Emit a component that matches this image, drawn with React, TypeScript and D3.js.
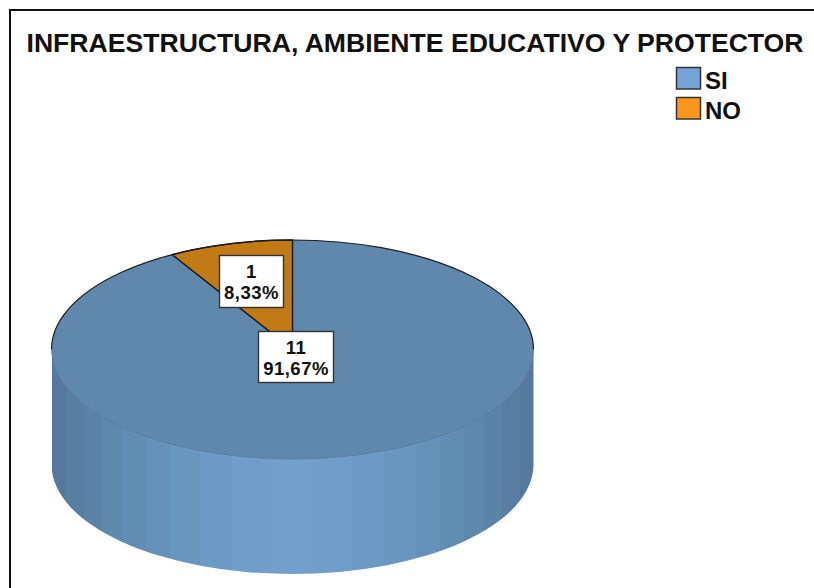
import React from "react";
import * as d3 from "d3";

const categories = ["SI", "NO"];
const counts = [11, 1];
const percentLabels = ["91,67%", "8,33%"];
const titleText = "INFRAESTRUCTURA, AMBIENTE EDUCATIVO Y PROTECTOR";
const topColors = ["#6088ad", "#c27a16"];
const legendColors = ["#74a5d6", "#f8971c"];
const sideColorScale = d3
  .scaleLinear<string>()
  .domain([0, 0.25, 0.5, 0.75, 1])
  .range(["#54779a", "#5f88ad", "#6895be", "#6f9cc7", "#729fcc"]);

const W = 814, H = 588;
const cx = 292.5, cy = 349.5, rx = 241, ry = 109.5, depth = 115;
const ratio = ry / rx;
const labelBoxes = [
  { x: 258, y: 331, w: 75, h: 51, first: 23, second: 44 },
  { x: 219, y: 255, w: 64, h: 52, first: 23, second: 44 },
];
const font = "'Liberation Sans', Arial, sans-serif";
const bandEdges = [52, 66, 84, 102, 122, 146, 170, 200, 232, 272, 312, 352, 384, 416, 440, 464, 484, 502, 520, 534];

export default function App() {
  // SI is drawn clockwise from 12 o'clock, NO closes the circle.
  const pie = d3.pie<number>().sort(null)(counts);
  const arc = d3.arc<d3.PieArcDatum<number>>().innerRadius(0).outerRadius(rx);
  const sidePath = `M${cx - rx} ${cy}V${cy + depth}A${rx} ${ry} 0 0 0 ${cx + rx} ${cy + depth}V${cy}Z`;

  return (
    <svg width={W} height={H} style={{ position: "absolute", left: 0, top: 0, display: "block", background: "#fff" }}>
      <defs>
        <clipPath id="side"><path d={sidePath} /></clipPath>
      </defs>
      <path d={`M10 ${H}V10H${W}`} fill="none" stroke="#111" strokeWidth={2} />
      <text x={26.5} y={52} fontFamily={font} fontWeight="bold" fontSize={25} textLength={777} lengthAdjust="spacingAndGlyphs" fill="#111">
        {titleText}
      </text>

      {categories.map((c, i) => (
        <g key={c}>
          <rect x={676.5} y={67.5 + i * 30} width={24} height={21.5} fill={legendColors[i]} stroke="#333" strokeWidth={1.5} />
          <text x={705} y={89 + i * 29.5} fontFamily={font} fontWeight="bold" fontSize={24} fill="#111">{c}</text>
        </g>
      ))}

      <g clipPath="url(#side)">
        {bandEdges.slice(0, -1).map((x, i) => {
          const next = bandEdges[i + 1];
          const t = 1 - Math.abs((x + next) / 2 - cx) / rx;
          return <rect key={x} x={x} y={cy} width={next - x} height={depth + ry + 2} fill={sideColorScale(t)} />;
        })}
      </g>

      <g transform={`translate(${cx},${cy}) scale(1,${ratio})`}>
        {pie.map((p, i) => (
          <path key={i} d={arc(p) ?? ""} fill={topColors[i]} stroke={i === 1 ? "#1c1c1c" : "none"} strokeWidth={1.5} vectorEffect="non-scaling-stroke" />
        ))}
      </g>
      <path d={`M${cx - rx} ${cy}A${rx} ${ry} 0 0 1 ${cx + rx} ${cy}`} fill="none" stroke="#1c1c1c" strokeWidth={1.2} />
      <path d={`M${cx - rx} ${cy}A${rx} ${ry} 0 0 0 ${cx + rx} ${cy}`} fill="none" stroke="#557a9d" strokeWidth={0.7} />

      {labelBoxes.map((b, i) => (
        <g key={i}>
          <rect x={b.x + 0.5} y={b.y + 0.5} width={b.w} height={b.h} fill="#fff" stroke="#333" strokeWidth={1.4} />
          <text x={b.x + b.w / 2 + 0.5} y={b.y + b.first} textAnchor="middle" fontFamily={font} fontWeight="bold" fontSize={18.5} letterSpacing={0.5} fill="#111">{counts[i]}</text>
          <text x={b.x + b.w / 2 + 0.5} y={b.y + b.second} textAnchor="middle" fontFamily={font} fontWeight="bold" fontSize={18.5} letterSpacing={0.5} fill="#111">{percentLabels[i]}</text>
        </g>
      ))}
    </svg>
  );
}
